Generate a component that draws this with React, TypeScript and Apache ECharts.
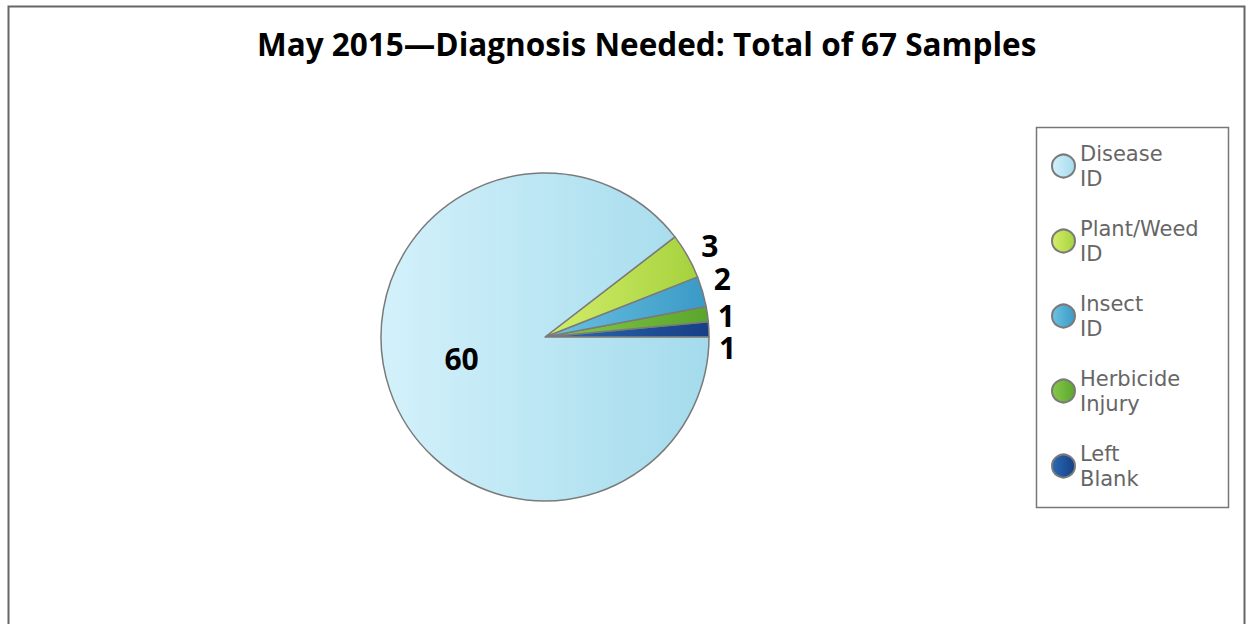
import React, { useEffect, useRef } from "react";
import * as echarts from "echarts";

const categories = ["Left Blank", "Herbicide Injury", "Insect ID", "Plant/Weed ID", "Disease ID"];
const values = [1, 1, 2, 3, 60];
const legendOrder = ["Disease ID", "Plant/Weed ID", "Insect ID", "Herbicide Injury", "Left Blank"];
const colorStops: Record<string, [string, string]> = {
  "Disease ID": ["#d3f1fb", "#a4dbec"],
  "Plant/Weed ID": ["#d4ee6a", "#a6d23e"],
  "Insect ID": ["#6cc2e2", "#3a9ac6"],
  "Herbicide Injury": ["#86c94a", "#5aa62c"],
  "Left Blank": ["#2a6ab2", "#173f86"],
};
const labelOffsets: Record<string, [number, number]> = {
  "Disease ID": [-3, -6],
  "Plant/Weed ID": [5, -9],
  "Insect ID": [6, -12],
  "Herbicide Injury": [6, 2],
  "Left Blank": [6, 7],
};
const titleText = "May 2015\u2014Diagnosis Needed: Total of 67 Samples";

export default function App() {
  const ref = useRef<HTMLDivElement>(null);
  useEffect(() => {
    if (!ref.current) return;
    const chart = echarts.init(ref.current, undefined, { renderer: "svg" });
    const data = categories.map((name, i) => {
      const [c1, c2] = colorStops[name];
      const isBig = name === "Disease ID";
      return {
        name,
        value: values[i],
        itemStyle: {
          color: new echarts.graphic.LinearGradient(0, 0, 1, 0, [
            { offset: 0, color: c1 },
            { offset: 1, color: c2 },
          ]),
        },
        label: {
          position: isBig ? "inside" : "outside",
          offset: labelOffsets[name],
        },
        labelLine: { show: false },
      };
    });
    chart.setOption({
      animation: false,
      backgroundColor: "#ffffff",
      title: {
        text: titleText,
        left: 252,
        top: 22,
        textStyle: {
          fontFamily: "Open Sans",
          fontWeight: "bold",
          fontSize: 31.5,
          color: "#000",
        },
      },
      legend: {
        orient: "vertical",
        left: 1046,
        top: 136,
        data: legendOrder,
        icon: "circle",
        itemWidth: 23,
        itemHeight: 23,
        itemGap: 25,
        formatter: (n: string) => n.replace(" ", "\n"),
        textStyle: {
          fontFamily: "DejaVu Sans",
          fontSize: 21,
          lineHeight: 25,
          color: "#666",
          padding: [0, 0, 0, 0],
        },
      },
      graphic: [
        {
          type: "polyline",
          shape: { points: [[8.5, 624], [8.5, 6.5], [1244.5, 6.5], [1244.5, 624]] },
          style: { stroke: "#666", lineWidth: 2, fill: "none" },
          silent: true,
        },
        {
          type: "rect",
          shape: { x: 1036.5, y: 127.5, width: 192, height: 380 },
          style: { stroke: "#777", lineWidth: 1.5, fill: "none" },
          silent: true,
          z: -1,
        },
      ],
      series: [
        {
          type: "pie",
          center: [545, 337],
          radius: 164,
          startAngle: 0,
          clockwise: false,
          data,
          itemStyle: { borderColor: "#7a7a7a", borderWidth: 1.5 },
          label: {
            show: true,
            formatter: "{c}",
            fontFamily: "Open Sans",
            fontWeight: "bold",
            fontSize: 30,
            lineHeight: 28,
            color: "#000",
          },
          labelLine: { show: false, length: 4, length2: 0 },
          emphasis: { disabled: true },
        },
      ],
    });
    return () => chart.dispose();
  }, []);
  return (
    <div
      ref={ref}
      style={{ position: "absolute", left: 0, top: 0, width: 1252, height: 624 }}
    />
  );
}
